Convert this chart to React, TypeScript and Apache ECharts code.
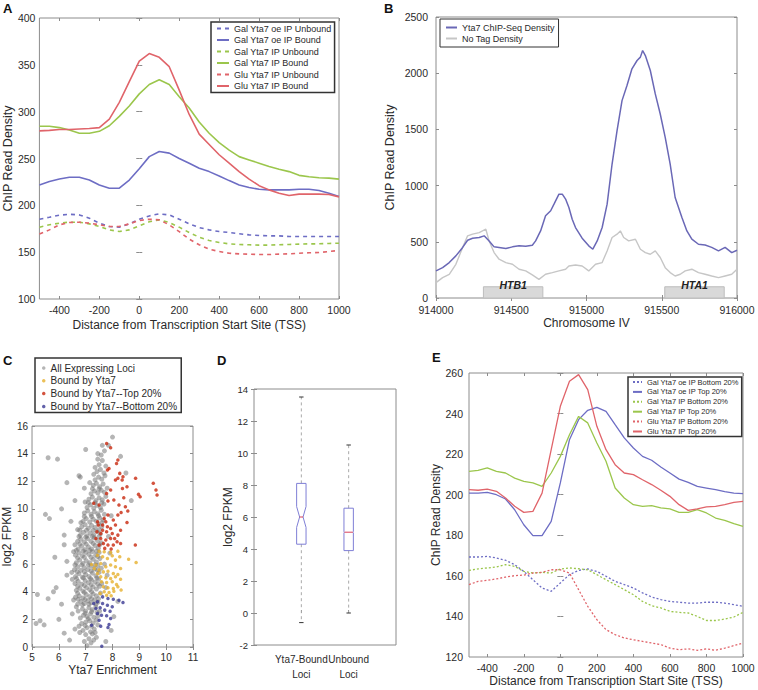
import React, { useEffect, useRef } from "react";
import * as echarts from "echarts";

const FONT = "Liberation Sans, Arial, sans-serif";

// ---------- Panels A & E : position relative to TSS ----------
const tssX = [-500, -450, -400, -350, -300, -250, -200, -150, -100, -50, 0, 50, 100, 150, 200, 250, 300, 350, 400, 450, 500, 550, 600, 650, 700, 750, 800, 850, 900, 950, 1000];
const tssTicks = [-400, -200, 0, 200, 400, 600, 800, 1000];

// Panel A
const aNames = ["Gal Yta7 oe IP Unbound", "Gal Yta7 oe IP Bound", "Gal Yta7 IP Unbound", "Gal Yta7 IP Bound", "Glu Yta7 IP Unbound", "Glu Yta7 IP Bound"];
const aGalOeUnbound = [185.2, 187.3, 189.5, 190.5, 189.8, 186.3, 181, 177.4, 176.7, 180.2, 185.2, 188.7, 190.9, 189.8, 185.2, 180.2, 176.3, 173.8, 172, 171, 169.7, 168.5, 167.8, 167.4, 167.4, 166.7, 166.7, 166.7, 166.7, 166.7, 166.7];
const aGalOeBound = [221.8, 225.4, 228.2, 230, 230, 227, 221.8, 218.3, 218.3, 227, 239, 252, 257.4, 255.7, 250, 245, 239.6, 236, 231.4, 226.4, 221.8, 219, 217.2, 216.5, 216.5, 216.5, 217.2, 217.2, 215.8, 213, 209.4];
const aGalUnbound = [176.7, 179.2, 181, 182, 182, 180.2, 177.4, 173.8, 172, 173.8, 178.1, 182.4, 184.5, 181.7, 176.7, 171, 166, 162.5, 160.3, 158.9, 158.2, 157.9, 157.5, 157.5, 157.9, 158.2, 158.6, 158.9, 158.9, 159.3, 159.6];
const aGalBound = [284.5, 284.5, 283, 280.5, 277, 277, 279, 285, 295, 306, 319, 329, 334, 329, 316, 304, 289, 277, 267, 259, 252, 248.5, 245, 241.5, 238.5, 236, 232, 230.5, 229.5, 229, 228];
const aGluUnbound = [169.3, 173.8, 179.2, 181.7, 182, 181, 179.2, 177.4, 177.4, 180.2, 183.8, 185.2, 184.5, 179.2, 172, 163.9, 157.9, 153.2, 150.7, 148.9, 148.2, 147.9, 147.5, 147.5, 147.9, 148.2, 148.9, 149.3, 149.6, 150.7, 151.8];
const aGluBound = [279.5, 280, 281, 281, 281.5, 282, 283, 292, 310, 332, 354, 362, 358, 348, 323, 297, 276, 265, 254, 245, 236, 228, 221, 216.5, 213, 210.5, 212, 212, 212, 211.5, 209];

// Panel E
const eNames = ["Gal Yta7 oe IP Bottom 20%", "Gal Yta7 oe IP Top 20%", "Gal Yta7 IP Bottom 20%", "Gal Yta7 IP Top 20%", "Glu Yta7 IP Bottom 20%", "Glu Yta7 IP Top 20%"];
const eGalOeBottom = [169.3, 169.3, 169.6, 168.8, 167.7, 165.5, 162.2, 158.1, 154, 152.4, 156.5, 160.6, 162.7, 163.4, 162.2, 159.8, 157.3, 155.7, 154, 151.6, 149.6, 148.3, 147.4, 147, 146.6, 146.6, 147, 147, 146.6, 145.8, 145];
const eGalOeTop = [200.8, 200.8, 201.2, 200, 197.9, 192.6, 185.2, 179.8, 179.8, 186.9, 205.8, 227.1, 237, 241.6, 243.1, 241.1, 234.5, 228, 223, 218.9, 217, 213.7, 210.7, 207.7, 206.1, 204.1, 203.3, 202.5, 201.5, 200.8, 200.5];
const eGalBottom = [162.7, 163.4, 163.9, 164.4, 165.5, 164.7, 162.2, 161.4, 161.7, 161.4, 163.4, 163.9, 163.5, 163, 160.6, 158.1, 155.7, 153.2, 150.7, 147.4, 145.3, 144.2, 142.5, 142, 141.7, 140, 138, 138, 138.7, 139.7, 142];
const eGalTop = [211.5, 212, 213.2, 211.5, 210.7, 208.2, 206.6, 205.8, 204.1, 210.7, 218.9, 229.6, 238.6, 235.4, 225.5, 216.5, 203.3, 198.4, 195.1, 194.3, 194.6, 193.5, 193, 191.3, 191.3, 192.6, 191, 188.5, 187.4, 185.7, 184.4];
const eGluBottom = [155.7, 157.3, 157.8, 158.5, 159.4, 160.1, 160.4, 161.4, 161.7, 163, 163, 161.4, 153.2, 145, 138.4, 133.5, 131, 129.4, 128.5, 127.7, 126.9, 126.1, 124.4, 123.6, 124, 123.3, 124, 123.3, 124.4, 125.6, 126.9];
const eGluTop = [202.5, 202.2, 202.8, 201.7, 198.4, 194.3, 191.3, 191.8, 200.8, 222.2, 243.6, 255.9, 259.2, 251.8, 233.7, 222.2, 214.8, 210.7, 209.9, 207.4, 205, 202.2, 199.2, 195.1, 192.3, 193, 194, 194.3, 195.1, 196.2, 196.7];

// ---------- Panel B ----------
const bNames = ["Yta7 ChIP-Seq Density", "No Tag Density"];
const bChipX = [914000, 914044, 914088, 914132, 914177, 914210, 914243, 914287, 914320, 914353, 914386, 914419, 914464, 914508, 914552, 914596, 914640, 914662, 914695, 914728, 914762, 914784, 914817, 914839, 914861, 914883, 914905, 914927, 914971, 915015, 915042, 915071, 915104, 915137, 915170, 915203, 915236, 915269, 915302, 915336, 915358, 915373, 915391, 915424, 915457, 915490, 915523, 915556, 915589, 915634, 915667, 915700, 915744, 915788, 915832, 915877, 915921, 915965, 916000];
const bChipY = [241, 270, 315, 375, 450, 514, 532, 538, 553, 508, 455, 450, 440, 455, 464, 461, 470, 508, 597, 731, 776, 835, 924, 924, 880, 805, 701, 627, 532, 464, 434, 508, 627, 835, 1192, 1489, 1756, 1890, 2039, 2113, 2143, 2202, 2157, 2024, 1816, 1637, 1429, 1192, 894, 716, 597, 523, 478, 472, 450, 419, 450, 404, 425];
const bNoTagX = [914000, 914044, 914088, 914132, 914177, 914210, 914243, 914287, 914331, 914353, 914386, 914419, 914464, 914508, 914552, 914596, 914640, 914684, 914728, 914773, 914817, 914861, 914883, 914927, 914971, 915015, 915060, 915104, 915137, 915170, 915203, 915225, 915247, 915280, 915325, 915358, 915391, 915424, 915457, 915490, 915523, 915556, 915589, 915623, 915656, 915700, 915744, 915788, 915832, 915877, 915921, 915965, 916000];
const bNoTagY = [137, 181, 211, 300, 449, 553, 568, 582, 612, 508, 404, 345, 315, 300, 256, 241, 205, 166, 211, 226, 241, 256, 285, 294, 285, 241, 300, 315, 419, 538, 568, 597, 538, 508, 523, 434, 404, 389, 419, 360, 270, 226, 196, 211, 241, 256, 226, 211, 196, 181, 196, 211, 256];
const geneNames = ["HTB1", "HTA1"];
const geneStart = [914315, 915520];
const geneEnd = [914710, 915915];
const geneTop = 100;

// ---------- Panel C ----------
const cNames = ["All Expressing Loci", "Bound by Yta7", "Bound by Yta7--Top 20%", "Bound by Yta7--Bottom 20%"];
const cAll = [
  [7.05, 0.1], [7.2, 0.3], [7.12, 0.6], [7.3, 0.5], [7.0, 0.9], [7.25, 0.95], [7.4, 0.7], [6.95, 0.4],
  [6.9, 1.2], [7.05, 1.4], [7.18, 1.1], [7.32, 1.3], [7.45, 1.6], [6.85, 1.7], [7.0, 1.8], [7.15, 1.9], [7.28, 1.75], [7.4, 1.95], [6.75, 1.5], [6.6, 1.3],
  [6.8, 2.1], [6.92, 2.3], [7.05, 2.2], [7.18, 2.4], [7.3, 2.15], [7.42, 2.5], [6.72, 2.6], [6.88, 2.75], [7.0, 2.6], [7.12, 2.85], [7.25, 2.7], [7.38, 2.9], [7.52, 2.6], [6.65, 2.9],
  [6.7, 3.1], [6.82, 3.3], [6.95, 3.15], [7.08, 3.35], [7.2, 3.2], [7.33, 3.4], [7.46, 3.25], [6.62, 3.6], [6.76, 3.7], [6.9, 3.55], [7.02, 3.8], [7.15, 3.65], [7.28, 3.85], [7.4, 3.7], [7.55, 3.9], [6.55, 3.4],
  [6.65, 4.1], [6.78, 4.25], [6.9, 4.05], [7.03, 4.3], [7.15, 4.15], [7.27, 4.35], [7.4, 4.2], [7.52, 4.4], [6.6, 4.6], [6.72, 4.75], [6.85, 4.55], [6.98, 4.8], [7.1, 4.65], [7.22, 4.85], [7.35, 4.7], [7.48, 4.9], [7.6, 4.6], [6.5, 4.9],
  [6.62, 5.1], [6.75, 5.3], [6.88, 5.05], [7.0, 5.25], [7.12, 5.1], [7.25, 5.35], [7.38, 5.15], [7.5, 5.4], [6.58, 5.6], [6.7, 5.8], [6.82, 5.55], [6.95, 5.75], [7.08, 5.6], [7.2, 5.85], [7.33, 5.65], [7.45, 5.9], [7.58, 5.7], [6.48, 5.4],
  [6.65, 6.1], [6.78, 6.3], [6.9, 6.05], [7.02, 6.25], [7.15, 6.1], [7.28, 6.35], [7.4, 6.15], [7.53, 6.4], [6.62, 6.65], [6.75, 6.8], [6.88, 6.6], [7.0, 6.85], [7.12, 6.7], [7.25, 6.9], [7.37, 6.65], [7.5, 6.85], [6.55, 6.9],
  [6.72, 7.1], [6.85, 7.3], [6.97, 7.05], [7.1, 7.25], [7.22, 7.1], [7.35, 7.35], [7.47, 7.15], [6.7, 7.65], [6.82, 7.8], [6.95, 7.6], [7.07, 7.85], [7.2, 7.65], [7.32, 7.9], [7.44, 7.7], [7.58, 7.55], [6.6, 7.4],
  [6.8, 8.1], [6.92, 8.3], [7.05, 8.05], [7.17, 8.25], [7.3, 8.1], [7.42, 8.35], [7.55, 8.2], [6.85, 8.7], [6.98, 8.85], [7.1, 8.6], [7.22, 8.8], [7.35, 8.65], [7.48, 8.9], [7.6, 8.7], [6.7, 8.5],
  [6.9, 9.1], [7.02, 9.3], [7.15, 9.05], [7.28, 9.25], [7.4, 9.1], [7.52, 9.35], [7.65, 9.2], [6.95, 9.7], [7.08, 9.85], [7.2, 9.6], [7.32, 9.8], [7.45, 9.65], [7.58, 9.9], [7.7, 9.6],
  [7.05, 10.1], [7.18, 10.3], [7.3, 10.05], [7.42, 10.25], [7.55, 10.1], [7.68, 10.35], [7.12, 10.7], [7.25, 10.85], [7.38, 10.6], [7.5, 10.8], [7.62, 10.65], [7.75, 10.9], [6.98, 10.5],
  [7.2, 11.1], [7.33, 11.3], [7.45, 11.15], [7.58, 11.35], [7.7, 11.2], [7.28, 11.7], [7.4, 11.85], [7.52, 11.6], [7.65, 11.8], [7.15, 11.9], [7.8, 11.5],
  [7.35, 12.1], [7.48, 12.3], [7.6, 12.15], [7.72, 12.4], [7.42, 12.7], [7.55, 12.85], [7.68, 12.6], [7.3, 12.5],
  [7.5, 13.2], [7.62, 13.5], [7.75, 13.1], [7.58, 13.9], [7.7, 14.2], [7.85, 14.6], [7.45, 14.0], [8.0, 15.2],
  [5.6, 13.7], [5.95, 13.6], [6.3, 11.9], [6.8, 12.3], [7.0, 14.3], [6.75, 12.4], [5.5, 9.6], [5.65, 9.3], [6.1, 10.0], [6.2, 8.1], [5.85, 6.5], [6.3, 6.2],
  [5.2, 3.8], [5.15, 1.7], [5.3, 1.9], [5.45, 1.6], [5.6, 3.5], [5.9, 4.3], [6.1, 3.1], [6.0, 2.0], [6.2, 1.0], [6.4, 0.5], [6.5, 2.4], [6.3, 5.2],
  [6.2, 7.4], [6.45, 9.1], [8.5, 12.6], [8.3, 13.8], [8.7, 10.6], [8.2, 3.3], [8.05, 2.2], [7.95, 1.2], [7.75, 0.4], [5.8, 4.0], [6.6, 10.6], [6.95, 11.5],
  [7.7, 6.0], [7.8, 5.2], [7.9, 6.8], [7.75, 4.3], [7.85, 8.0], [7.95, 9.5],
  [6.78, 1.05], [7.35, 1.05], [6.98, 1.55], [7.22, 1.5], [7.1, 2.05], [6.98, 2.45], [7.22, 2.55], [7.45, 2.25], [6.88, 3.05], [7.12, 3.1], [7.38, 3.1],
  [6.72, 3.45], [6.98, 3.45], [7.22, 3.5], [7.48, 3.5], [6.7, 3.9], [6.95, 3.95], [7.22, 4.0], [6.7, 4.4], [6.95, 4.45], [7.2, 4.5], [7.45, 4.55],
  [6.66, 4.95], [6.92, 5.0], [7.18, 4.95], [7.42, 5.0], [6.68, 5.45], [6.95, 5.45], [7.2, 5.5], [7.44, 5.55], [6.6, 5.95], [6.85, 5.95], [7.1, 5.95],
  [7.35, 5.95], [6.7, 6.45], [6.95, 6.5], [7.2, 6.5], [7.45, 6.55], [6.65, 7.0], [6.9, 6.95], [7.15, 7.0], [7.4, 6.95], [6.78, 7.45], [7.02, 7.45],
  [7.28, 7.5], [7.52, 7.4], [6.75, 8.0], [7.0, 7.95], [7.25, 8.0], [7.5, 8.0], [6.78, 8.45], [7.03, 8.45], [7.28, 8.45], [7.5, 8.5], [6.95, 9.45],
  [7.22, 9.45], [7.48, 9.5], [6.82, 9.0], [7.6, 9.0], [7.1, 10.45], [7.35, 10.45], [7.6, 10.45], [7.25, 11.45], [7.5, 11.45], [7.45, 13.6], [7.62, 14.6], [7.35, 13.0]
];
const cBound = [
  [7.5, 6.94], [7.69, 6.89], [7.93, 6.85], [8.2, 6.94], [8.27, 6.53], [8.6, 6.36], [8.88, 6.12], [7.44, 6.65], [7.63, 6.53], [7.81, 6.41], [7.99, 6.6], [8.11, 6.29],
  [7.22, 5.98], [7.38, 5.93], [7.56, 6.05], [7.75, 5.81], [7.93, 5.93], [8.11, 5.81], [8.3, 5.69], [7.5, 5.57], [7.66, 5.44], [7.83, 5.49], [8.03, 5.32], [8.2, 5.25],
  [7.56, 5.08], [7.75, 5.01], [7.93, 4.96], [8.11, 5.08], [8.3, 4.91], [7.59, 4.72], [7.78, 4.67], [7.99, 4.72], [8.15, 4.53], [7.66, 4.36], [7.83, 4.29], [8.03, 4.24],
  [8.2, 4.36], [7.69, 4.0], [7.87, 3.95], [8.05, 4.04], [7.78, 3.75], [7.95, 3.71], [7.54, 3.87], [8.32, 4.12], [7.44, 5.32], [7.32, 5.69]
];
const cTop = [
  [7.78, 14.74], [7.93, 14.43], [8.2, 13.54], [8.15, 13.29], [7.81, 12.81], [7.87, 12.93], [8.27, 12.57], [8.39, 12.33], [8.2, 12.21], [8.36, 12.09], [8.11, 12.09], [8.86, 12.21],
  [8.54, 11.6], [8.37, 11.48], [9.52, 11.85], [9.62, 11.36], [9.66, 11.0], [8.97, 11.05], [9.03, 10.88], [7.93, 11.36], [7.78, 11.12], [8.42, 10.81], [8.05, 10.64], [7.83, 10.57],
  [8.24, 10.28], [8.48, 10.15], [8.57, 9.84], [8.32, 9.74], [7.3, 10.4], [7.5, 10.28], [8.2, 9.55], [7.83, 9.55], [7.69, 9.31], [8.03, 9.19], [8.54, 9.02], [7.47, 8.83],
  [7.63, 8.83], [7.81, 8.71], [8.11, 8.83], [8.3, 8.46], [7.42, 8.34], [7.56, 8.22], [7.78, 8.34], [7.99, 8.22], [8.2, 8.1], [7.56, 7.86], [7.75, 7.74], [7.93, 7.86],
  [8.17, 7.62], [7.66, 7.5], [7.83, 7.38], [8.03, 7.38], [8.3, 7.5], [8.85, 7.38], [7.5, 7.38], [7.71, 7.14], [7.95, 7.09],
  [7.44, 9.07], [7.75, 9.07], [7.93, 8.58], [8.08, 7.86], [7.38, 7.86], [7.63, 8.46]
];
const cBottom = [
  [7.63, 3.63], [7.83, 3.51], [8.03, 3.46], [8.24, 3.39], [8.39, 3.22], [7.3, 3.15], [7.44, 3.27], [7.63, 3.15], [7.81, 3.03], [7.99, 2.91], [7.38, 2.79], [7.54, 2.84],
  [7.71, 2.67], [7.91, 2.59], [7.44, 2.43], [7.59, 2.3], [7.78, 2.26], [7.93, 2.06], [7.5, 1.94], [7.87, 1.63], [7.22, 1.58], [7.56, 1.51], [7.83, 1.41], [7.6, 0.05]
];

// ---------- Panel D ----------
const dCats = ["Yta7-Bound\nLoci", "Unbound\nLoci"];
const dLow = [-0.6, 0.0];
const dQ1 = [4.3, 3.9];
const dMed = [6.0, 5.05];
const dQ3 = [8.1, 6.55];
const dHigh = [13.5, 10.5];
const dNotch = [0.65, 0.04];

// ---------- styling ----------
const BLUE = "#6d6dc4";
const GREEN = "#9bc64c";
const RED = "#e0646a";
const AXIS_GRAY = "#8c8c8c";
const LABEL = "#2a2a2a";
const plain = (v: number) => String(v);

const grids = [
  { left: 36, top: 18, width: 303, height: 281 },
  { left: 436, top: 17, width: 301, height: 281 },
  { left: 29, top: 426, width: 164, height: 221 },
  { left: 254, top: 389, width: 142, height: 256 },
  { left: 469, top: 373, width: 274, height: 284 },
];

function mainX(gridIndex: number, min: number, max: number, extra: any) {
  return {
    type: "value", gridIndex, min, max, position: "bottom",
    axisLine: { show: false },
    splitLine: { show: false },
    axisTick: { show: true, inside: true, length: 3, lineStyle: { color: AXIS_GRAY } },
    axisLabel: { color: LABEL, fontSize: 10.5, fontFamily: FONT, margin: 5, formatter: plain },
    nameLocation: "middle",
    nameTextStyle: { color: LABEL, fontSize: 12, fontFamily: FONT },
    ...extra,
  };
}
function mainY(gridIndex: number, min: number, max: number, extra: any) {
  return {
    type: "value", gridIndex, min, max, position: "left",
    axisLine: { show: false },
    splitLine: { show: false },
    axisTick: { show: true, inside: true, length: 3, lineStyle: { color: AXIS_GRAY } },
    axisLabel: { color: LABEL, fontSize: 10.5, fontFamily: FONT, margin: 4, formatter: plain },
    nameLocation: "middle",
    nameTextStyle: { color: LABEL, fontSize: 12.5, fontFamily: FONT },
    ...extra,
  };
}
function mirror(kind: "x" | "y", gridIndex: number, min: number, max: number, interval?: number, custom?: number[]) {
  return {
    type: "value", gridIndex, min, max, interval,
    position: kind === "x" ? "top" : "right",
    axisLine: { show: false },
    splitLine: { show: false },
    axisLabel: { show: false },
    axisTick: { show: true, inside: true, length: 3, lineStyle: { color: AXIS_GRAY }, customValues: custom },
  };
}
// one bottom axis per box-plot category, so the two neighbouring labels never compete for space
function dCatAxis(catIndex: number) {
  const pos = catIndex + 1;
  return {
    type: "value", gridIndex: 3, min: 0, max: 3, position: "bottom", offset: 0,
    axisLine: { show: false },
    splitLine: { show: false },
    axisTick: { show: true, inside: true, length: 3, lineStyle: { color: AXIS_GRAY }, customValues: [pos] },
    axisLabel: {
      color: LABEL, fontSize: 10, fontFamily: FONT, margin: 7, lineHeight: 15,
      customValues: [pos], formatter: () => dCats[catIndex],
    },
  };
}

function tssLine(name: string, vals: number[], color: string, dashed: boolean, idx: number, dash: number[], width: number) {
  return {
    type: "line", name, xAxisIndex: idx, yAxisIndex: idx,
    data: tssX.map((x, i) => [x, vals[i]]),
    symbol: "none",
    lineStyle: { color, width, type: dashed ? dash : "solid" },
    itemStyle: { color },
  };
}

const legendBase = {
  orient: "vertical", backgroundColor: "#fff", borderColor: "#333",
  itemStyle: { opacity: 0 },
  selectedMode: false,
};

export default function App() {
  const ref = useRef<HTMLDivElement>(null);
  useEffect(() => {
    if (!ref.current) return;
    const chart = echarts.init(ref.current, null, { renderer: "svg" });

    const option: any = {
      animation: false,
      textStyle: { fontFamily: FONT },
      grid: grids.map((g) => ({ ...g, show: true, borderColor: AXIS_GRAY, borderWidth: 1, backgroundColor: "#fff" })),
      xAxis: [
        mainX(0, -500, 1000, {
          name: "Distance from Transcription Start Site (TSS)", nameGap: 20,
          axisLabel: { color: LABEL, fontSize: 10.5, fontFamily: FONT, margin: 5, customValues: tssTicks, formatter: plain },
          axisTick: { show: true, inside: true, length: 3, lineStyle: { color: AXIS_GRAY }, customValues: tssTicks },
        }),
        mainX(1, 914000, 916000, {
          interval: 500, name: "Chromosome IV", nameGap: 19,
          axisLabel: { color: LABEL, fontSize: 10.5, fontFamily: FONT, margin: 6, formatter: plain },
        }),
        mainX(2, 5, 11, { interval: 1, name: "Yta7 Enrichment", nameGap: 17, axisLabel: { color: LABEL, fontSize: 10, fontFamily: FONT, margin: 5, formatter: plain } }),
        dCatAxis(0),
        mainX(4, -500, 1000, {
          name: "Distance from Transcription Start Site (TSS)", nameGap: 18,
          axisLabel: { color: LABEL, fontSize: 10.5, fontFamily: FONT, margin: 5, customValues: tssTicks, formatter: plain },
          axisTick: { show: true, inside: true, length: 3, lineStyle: { color: AXIS_GRAY }, customValues: tssTicks },
        }),
        mirror("x", 0, -500, 1000, undefined, tssTicks),
        mirror("x", 1, 914000, 916000, 500),
        mirror("x", 2, 5, 11, 1),
        mirror("x", 4, -500, 1000, undefined, tssTicks),
        dCatAxis(1),
      ],
      yAxis: [
        mainY(0, 100, 400, { interval: 50, name: "ChIP Read Density", nameGap: 22 }),
        mainY(1, 0, 2500, { interval: 500, name: "ChIP Read Density", nameGap: 40, axisLabel: { color: LABEL, fontSize: 10.5, fontFamily: FONT, margin: 8, formatter: plain } }),
        mainY(2, 0, 16, { interval: 2, name: "log2 FPKM", nameGap: 16, nameTextStyle: { color: LABEL, fontSize: 12, fontFamily: FONT }, axisLabel: { color: LABEL, fontSize: 10, fontFamily: FONT, margin: 4, formatter: plain } }),
        mainY(3, -2, 14, { interval: 2, name: "log2 FPKM", nameGap: 20, nameTextStyle: { color: LABEL, fontSize: 12, fontFamily: FONT }, axisLabel: { color: LABEL, fontSize: 9.5, fontFamily: FONT, margin: 6, formatter: plain } }),
        mainY(4, 120, 260, { interval: 20, name: "ChIP Read Density", nameGap: 25, nameTextStyle: { color: LABEL, fontSize: 12, fontFamily: FONT }, axisLabel: { color: LABEL, fontSize: 10.5, fontFamily: FONT, margin: 6, formatter: plain } }),
        mirror("y", 0, 100, 400, 50),
        mirror("y", 1, 0, 2500, 500),
        mirror("y", 2, 0, 16, 2),
        mirror("y", 3, -2, 14, 2),
        mirror("y", 4, 120, 260, 20),
      ],
      legend: [
        {
          ...legendBase, left: 211, top: 22, borderWidth: 1.5, padding: [2, 3, 2, 5],
          itemWidth: 12, itemHeight: 10, itemGap: 2.5,
          textStyle: { fontSize: 9, color: LABEL, fontFamily: FONT },
          data: aNames,
        },
        {
          ...legendBase, left: 440, top: 19, borderWidth: 1, padding: [4, 4, 4, 5],
          itemWidth: 11, itemHeight: 10, itemGap: 2,
          textStyle: { fontSize: 9, color: LABEL, fontFamily: FONT },
          data: bNames,
        },
        {
          orient: "vertical", backgroundColor: "#fff", borderColor: "#333", selectedMode: false,
          left: 35, top: 358, borderWidth: 1.5, padding: [5, 4, 1, 7],
          icon: "circle", itemWidth: 3.5, itemHeight: 3.5, itemGap: 2.8,
          textStyle: { fontSize: 10, color: LABEL, fontFamily: FONT },
          data: cNames,
        },
        {
          ...legendBase, left: 628, top: 377, borderWidth: 1.5, padding: [1, 3, 1, 4],
          itemWidth: 9, itemHeight: 8.5, itemGap: 1.9,
          textStyle: { fontSize: 7.5, color: LABEL, fontFamily: FONT },
          data: eNames,
        },
      ],
      graphic: [
        { type: "text", x: 3, y: 2, style: { text: "A", fontSize: 13, fontWeight: "bold", fontFamily: FONT, fill: "#111" } },
        { type: "text", x: 384, y: 2, style: { text: "B", fontSize: 13, fontWeight: "bold", fontFamily: FONT, fill: "#111" } },
        { type: "text", x: 3, y: 354, style: { text: "C", fontSize: 13, fontWeight: "bold", fontFamily: FONT, fill: "#111" } },
        { type: "text", x: 217, y: 354, style: { text: "D", fontSize: 13, fontWeight: "bold", fontFamily: FONT, fill: "#111" } },
        { type: "text", x: 432, y: 351, style: { text: "E", fontSize: 13, fontWeight: "bold", fontFamily: FONT, fill: "#111" } },
      ],
      series: [
        // A
        tssLine(aNames[0], aGalOeUnbound, BLUE, true, 0, [4, 4], 1.6),
        tssLine(aNames[1], aGalOeBound, BLUE, false, 0, [4, 4], 1.6),
        tssLine(aNames[2], aGalUnbound, GREEN, true, 0, [4, 4], 1.6),
        tssLine(aNames[3], aGalBound, GREEN, false, 0, [4, 4], 1.6),
        tssLine(aNames[4], aGluUnbound, RED, true, 0, [4, 4], 1.6),
        tssLine(aNames[5], aGluBound, RED, false, 0, [4, 4], 1.6),
        // B
        {
          type: "line", name: bNames[1], xAxisIndex: 1, yAxisIndex: 1, symbol: "none",
          data: bNoTagX.map((x, i) => [x, bNoTagY[i]]),
          lineStyle: { color: "#c6c6c6", width: 1.4 }, itemStyle: { color: "#c6c6c6" },
          markArea: {
            silent: true,
            itemStyle: { color: "#d9d9d9", borderColor: "#bdbdbd", borderWidth: 1 },
            label: { show: true, position: "top", distance: -4, fontStyle: "italic", fontWeight: "bold", fontSize: 10.5, color: "#222", fontFamily: FONT },
            data: geneNames.map((n, i) => [{ name: n, xAxis: geneStart[i], yAxis: 0 }, { xAxis: geneEnd[i], yAxis: geneTop }]),
          },
          z: 2,
        },
        {
          type: "line", name: bNames[0], xAxisIndex: 1, yAxisIndex: 1, symbol: "none",
          data: bChipX.map((x, i) => [x, bChipY[i]]),
          lineStyle: { color: "#6a68b6", width: 1.5 }, itemStyle: { color: "#6a68b6" }, z: 3,
        },
        // C
        { type: "scatter", name: cNames[0], xAxisIndex: 2, yAxisIndex: 2, data: cAll, symbolSize: 5, itemStyle: { color: "rgba(120,120,120,0.68)" } },
        { type: "scatter", name: cNames[1], xAxisIndex: 2, yAxisIndex: 2, data: cBound, symbolSize: 3.5, itemStyle: { color: "#e6b02e" } },
        { type: "scatter", name: cNames[2], xAxisIndex: 2, yAxisIndex: 2, data: cTop, symbolSize: 3.5, itemStyle: { color: "#c8280e" } },
        { type: "scatter", name: cNames[3], xAxisIndex: 2, yAxisIndex: 2, data: cBottom, symbolSize: 3.5, itemStyle: { color: "#3b3a94" } },
        // D
        {
          type: "custom", name: "box", xAxisIndex: 3, yAxisIndex: 3,
          data: dCats.map((_, i) => [i + 1, dLow[i], dQ1[i], dMed[i], dQ3[i], dHigh[i], dNotch[i]]),
          encode: { x: 0, y: [1, 2, 3, 4, 5] },
          renderItem: (params: any, api: any) => {
            const x = api.value(0);
            const pt = (v: number) => api.coord([x, v]);
            const lo = pt(api.value(1)), q1 = pt(api.value(2)), md = pt(api.value(3)), q3 = pt(api.value(4)), hi = pt(api.value(5));
            const n = api.value(6);
            const nTop = pt(api.value(3) + n), nBot = pt(api.value(3) - n);
            const cx = md[0];
            const hw = 4.7, nw = n > 0.1 ? 1.7 : 4.2, cw = 2.2;
            const whisk = { stroke: "#a9a9a9", lineWidth: 1, lineDash: [3, 3] };
            return {
              type: "group",
              children: [
                { type: "line", shape: { x1: cx, y1: q3[1], x2: cx, y2: hi[1] }, style: whisk },
                { type: "line", shape: { x1: cx, y1: q1[1], x2: cx, y2: lo[1] }, style: whisk },
                { type: "line", shape: { x1: cx - cw, y1: hi[1], x2: cx + cw, y2: hi[1] }, style: { stroke: "#333", lineWidth: 1 } },
                { type: "line", shape: { x1: cx - cw, y1: lo[1], x2: cx + cw, y2: lo[1] }, style: { stroke: "#333", lineWidth: 1 } },
                {
                  type: "polygon",
                  shape: {
                    points: [
                      [cx - hw, q3[1]], [cx + hw, q3[1]], [cx + hw, nTop[1]], [cx + nw, md[1]], [cx + hw, nBot[1]],
                      [cx + hw, q1[1]], [cx - hw, q1[1]], [cx - hw, nBot[1]], [cx - nw, md[1]], [cx - hw, nTop[1]],
                    ],
                  },
                  style: { fill: "none", stroke: "#7f7fd6", lineWidth: 1 },
                },
                { type: "line", shape: { x1: cx - nw, y1: md[1], x2: cx + nw, y2: md[1] }, style: { stroke: "#d9405a", lineWidth: 1 } },
              ],
            };
          },
        },
        // E
        tssLine(eNames[0], eGalOeBottom, BLUE, true, 4, [2, 2], 1.3),
        tssLine(eNames[1], eGalOeTop, BLUE, false, 4, [2, 2], 1.3),
        tssLine(eNames[2], eGalBottom, GREEN, true, 4, [2, 2], 1.3),
        tssLine(eNames[3], eGalTop, GREEN, false, 4, [2, 2], 1.3),
        tssLine(eNames[4], eGluBottom, RED, true, 4, [2, 2], 1.3),
        tssLine(eNames[5], eGluTop, RED, false, 4, [2, 2], 1.3),
      ],
    };

    chart.setOption(option);
    return () => chart.dispose();
  }, []);

  return <div ref={ref} style={{ position: "fixed", left: 0, top: 0, width: 758, height: 690, background: "#fff" }} />;
}
